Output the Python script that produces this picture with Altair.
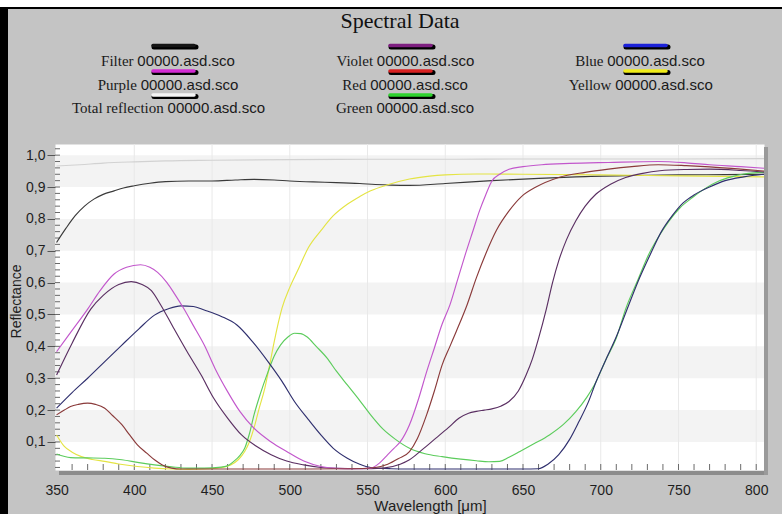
import altair as alt
import pandas as pd

# ---------------- data ----------------
names = ["Filter", "Violet", "Blue", "Purple", "Red", "Yellow", "Total reflection", "Green"]
suffix = "00000.asd.sco"

filter_wl = [350, 356, 362, 368, 374, 380, 387, 393, 400, 410, 420, 435, 450, 465, 477, 490, 500, 515, 530, 545, 555, 565, 577, 600, 630, 660, 684, 720, 750, 780, 805]
filter_r = [0.726, 0.77, 0.81, 0.84, 0.862, 0.877, 0.888, 0.897, 0.904, 0.912, 0.917, 0.919, 0.919, 0.922, 0.924, 0.922, 0.919, 0.916, 0.914, 0.911, 0.908, 0.906, 0.905, 0.911, 0.92, 0.927, 0.932, 0.936, 0.938, 0.939, 0.94]

total_wl = [350, 365, 380, 400, 420, 450, 500, 550, 600, 650, 700, 750, 805]
total_r = [0.966, 0.97, 0.975, 0.979, 0.982, 0.984, 0.986, 0.987, 0.987, 0.988, 0.988, 0.988, 0.989]

yellow_wl = [350, 355, 360, 366, 373, 381, 390, 402, 413, 424, 435, 445, 455, 462, 467, 471, 474, 477, 480, 484, 487, 490, 495, 500, 505, 512, 520, 528, 537, 545, 552, 563, 577, 590, 600, 620, 650, 700, 750, 805]
yellow_r = [0.122, 0.086, 0.068, 0.054, 0.045, 0.039, 0.031, 0.023, 0.018, 0.015, 0.014, 0.015, 0.019, 0.028, 0.045, 0.07, 0.1, 0.144, 0.2, 0.27, 0.34, 0.415, 0.52, 0.585, 0.637, 0.71, 0.763, 0.81, 0.846, 0.87, 0.888, 0.907, 0.925, 0.934, 0.938, 0.941, 0.94, 0.938, 0.935, 0.932]

green_wl = [350, 359, 370, 381, 392, 403, 413, 424, 434, 445, 456, 461, 464, 468, 471, 474, 477, 481, 486, 490, 494, 499, 503, 507, 511, 517, 524, 530, 537, 545, 552, 560, 568, 577, 587, 598, 610, 620, 628, 635, 641, 648, 657, 667, 676, 684, 691, 697, 703, 710, 716, 724, 731, 738, 744, 751, 759, 767, 776, 784, 791, 805]
green_r = [0.062, 0.051, 0.05, 0.049, 0.044, 0.035, 0.028, 0.022, 0.018, 0.018, 0.021, 0.028, 0.039, 0.058, 0.08, 0.125, 0.185, 0.25, 0.32, 0.37, 0.404, 0.43, 0.441, 0.44, 0.43, 0.4, 0.363, 0.322, 0.279, 0.23, 0.185, 0.14, 0.108, 0.08, 0.063, 0.054, 0.046, 0.041, 0.038, 0.039, 0.052, 0.07, 0.094, 0.122, 0.155, 0.195, 0.24, 0.289, 0.355, 0.426, 0.517, 0.61, 0.69, 0.75, 0.794, 0.835, 0.867, 0.895, 0.919, 0.932, 0.94, 0.946]

blue_wl = [350, 360, 370, 381, 392, 403, 413, 422, 430, 438, 445, 456, 466, 476, 486, 495, 503, 512, 520, 528, 537, 545, 552, 565, 577, 600, 630, 650, 660, 666, 673, 680, 686, 692, 697, 703, 710, 718, 725, 732, 739, 746, 753, 760, 770, 780, 792, 805]
blue_r = [0.206, 0.255, 0.3, 0.352, 0.404, 0.455, 0.498, 0.518, 0.527, 0.525, 0.514, 0.494, 0.467, 0.415, 0.352, 0.29, 0.227, 0.17, 0.122, 0.08, 0.049, 0.03, 0.02, 0.016, 0.015, 0.015, 0.015, 0.015, 0.016, 0.03, 0.06, 0.108, 0.164, 0.225, 0.289, 0.355, 0.43, 0.53, 0.615, 0.69, 0.76, 0.81, 0.85, 0.875, 0.9, 0.92, 0.932, 0.94]

violet_wl = [350, 360, 372, 380, 390, 398, 405, 411, 417, 425, 434, 443, 451, 460, 469, 478, 488, 498, 509, 520, 530, 545, 560, 571, 577, 585, 594, 602, 609, 615, 620, 625, 630, 636, 641, 647, 652, 656, 660, 665, 669, 673, 678, 684, 690, 697, 706, 716, 727, 738, 755, 770, 790, 805]
violet_r = [0.31, 0.41, 0.517, 0.56, 0.594, 0.603, 0.594, 0.575, 0.53, 0.46, 0.383, 0.31, 0.238, 0.175, 0.122, 0.088, 0.06, 0.04, 0.028, 0.02, 0.017, 0.016, 0.018, 0.03, 0.044, 0.075, 0.112, 0.145, 0.175, 0.19, 0.196, 0.2, 0.204, 0.213, 0.227, 0.26, 0.31, 0.36, 0.425, 0.517, 0.6, 0.669, 0.735, 0.794, 0.84, 0.878, 0.908, 0.93, 0.943, 0.951, 0.955, 0.956, 0.952, 0.947]

purple_wl = [350, 360, 370, 378, 387, 395, 404, 410, 415, 421, 426, 432, 438, 445, 452, 460, 468, 477, 488, 498, 509, 520, 530, 541, 552, 558, 563, 567, 571, 577, 583, 588, 593, 598, 603, 608, 613, 618, 622, 626, 630, 635, 641, 650, 662, 680, 705, 737, 755, 770, 790, 805]
purple_r = [0.383, 0.45, 0.517, 0.575, 0.627, 0.648, 0.656, 0.648, 0.632, 0.6, 0.564, 0.517, 0.465, 0.404, 0.33, 0.258, 0.195, 0.143, 0.1, 0.07, 0.04, 0.023, 0.017, 0.016, 0.018, 0.035, 0.06, 0.08, 0.1, 0.154, 0.238, 0.32, 0.395, 0.47, 0.53, 0.61, 0.69, 0.765, 0.825, 0.875, 0.919, 0.94, 0.956, 0.964, 0.97, 0.974, 0.977, 0.98, 0.976, 0.97, 0.964, 0.959]

red_wl = [350, 355, 359, 364, 370, 375, 381, 386, 392, 397, 402, 408, 413, 418, 424, 430, 450, 500, 540, 555, 563, 570, 577, 582, 588, 593, 598, 603, 607, 614, 620, 626, 633, 641, 649, 658, 673, 690, 705, 720, 737, 755, 770, 790, 805]
red_r = [0.185, 0.2, 0.211, 0.218, 0.222, 0.218, 0.206, 0.183, 0.154, 0.122, 0.091, 0.065, 0.044, 0.028, 0.018, 0.015, 0.015, 0.015, 0.016, 0.02, 0.03, 0.048, 0.07, 0.11, 0.185, 0.26, 0.342, 0.4, 0.446, 0.53, 0.615, 0.69, 0.765, 0.825, 0.87, 0.899, 0.93, 0.946, 0.956, 0.964, 0.97, 0.967, 0.963, 0.956, 0.95]

x_ticks = [350, 400, 450, 500, 550, 600, 650, 700, 750, 800]
y_ticks = [0.1, 0.2, 0.3, 0.4, 0.5, 0.6, 0.7, 0.8, 0.9, 1.0]
band_lo = [0.1, 0.3, 0.5, 0.7, 0.9]

# colours
line_colors = ["#3a3a3a", "#5a2f62", "#2f2f6e", "#c257cc", "#8a3a3a", "#e4e444", "#d2d2d2", "#5ccc5c"]
legend_colors = ["#151515", "#7e1f80", "#1c22d8", "#d22ad2", "#d82020", "#f0ec1a", "#f4f4f4", "#2ed22e"]

# ---------------- tables ----------------
series = {
    "Total reflection": (total_wl, total_r),
    "Filter": (filter_wl, filter_r),
    "Yellow": (yellow_wl, yellow_r),
    "Green": (green_wl, green_r),
    "Blue": (blue_wl, blue_r),
    "Violet": (violet_wl, violet_r),
    "Purple": (purple_wl, purple_r),
    "Red": (red_wl, red_r),
}
rows = []
for k, (sname, (w, r)) in enumerate(series.items()):
    for a, b in zip(w, r):
        rows.append({"series": sname, "wl": a, "r": b, "ord": k})
df = pd.DataFrame(rows)

W, H = 709, 326
PL, PT = 55, 144
xs = alt.Scale(domain=[349, 805], nice=False, zero=False)
ys = alt.Scale(domain=[0.012, 1.035], nice=False, zero=False)
one = pd.DataFrame({"a": [0]})

x_axis = alt.Axis(
    values=x_ticks, tickSize=0, domain=False, grid=False, labelPadding=13,
    labelFont="Liberation Sans", labelFontSize=14, labelColor="#1e1e1e",
    title="Wavelength [μm]", titleFont="Liberation Sans", titleFontSize=15,
    titleFontWeight="normal", titleColor="#1e1e1e", titlePadding=1, titleX=375)
y_axis = alt.Axis(
    values=y_ticks, format=".1f", labelExpr="replace(datum.label, '.', ',')",
    tickSize=8, tickColor="#555555", domain=False, grid=False, labelPadding=2,
    labelFont="Liberation Sans", labelFontSize=14, labelColor="#1e1e1e",
    title="Reflectance", titleFont="Liberation Sans", titleFontSize=14,
    titleFontWeight="normal", titleColor="#1e1e1e", titleAngle=270,
    titleBaseline="middle", titleX=-39, titleY=157)

# ---------------- plot panel ----------------
bands = alt.Chart(pd.DataFrame({"lo": band_lo, "hi": [v + 0.1 for v in band_lo]})).mark_rect(
    color="#f3f3f3").encode(
    x=alt.value(0), x2=alt.value(W),
    y=alt.Y("lo:Q", scale=ys, axis=y_axis), y2="hi:Q")

vgrid = alt.Chart(pd.DataFrame({"g": x_ticks[1:]})).mark_rule(color="#e9e9e9", strokeWidth=1).encode(
    x=alt.X("g:Q", scale=xs, axis=x_axis), y=alt.value(0), y2=alt.value(H))

xminor = alt.Chart(pd.DataFrame({"t": list(range(360, 801, 10))})).mark_rule(
    color="#6a6a6a", strokeWidth=1).encode(
    x=alt.X("t:Q", scale=xs, axis=x_axis), y=alt.value(H), y2=alt.value(H - 6))

yminor = alt.Chart(pd.DataFrame({"t": [round(0.02 * i, 2) for i in range(1, 52)]})).mark_rule(
    color="#6a6a6a", strokeWidth=1).encode(
    y=alt.Y("t:Q", scale=ys, axis=y_axis), x=alt.value(0), x2=alt.value(5))

lines = alt.Chart(df).mark_line(strokeWidth=1.15, interpolate="monotone").encode(
    x=alt.X("wl:Q", scale=xs, axis=x_axis),
    y=alt.Y("r:Q", scale=ys, axis=y_axis),
    color=alt.Color("series:N", scale=alt.Scale(domain=names, range=line_colors), legend=None),
    detail="series:N",
    order="ord:Q",
)

# ---------------- legend + title (pixel layout, relative to plot origin) ----------------
tw = {'F': 556, 'i': 278, 'l': 278, 't': 278, 'e': 444, 'r': 333, 'V': 722, 'o': 500, 'B': 667,
      'u': 500, 'P': 556, 'p': 500, 'R': 667, 'd': 500, 'Y': 722, 'w': 722, 'T': 611, 'a': 444,
      ' ': 250, 'f': 333, 'c': 444, 'n': 500, 'G': 722}
aw = {'0': 556, '.': 278, 'a': 556, 's': 500, 'd': 556, 'c': 500, 'o': 556}
FS = 15
suf_w = sum(aw[c] for c in suffix) * FS / 1000
gap = 0.25 * FS

col_x = [174 - PL, 411 - PL, 646 - PL]
sym_y = [45.5, 71, 95]
txt_y = [61, 84.5, 108]
legend_layers = []
for i, nm in enumerate(names):
    col, row = i % 3, i // 3
    cx = col_x[col]
    sy = sym_y[row] - PT
    ty = txt_y[row] - PT
    legend_layers.append(alt.Chart(one).mark_rule(color="#000000", strokeWidth=5, strokeCap="round").encode(
        x=alt.value(cx - 20), x2=alt.value(cx + 22), y=alt.value(sy + 1.5)))
    legend_layers.append(alt.Chart(one).mark_rule(color=legend_colors[i], strokeWidth=3.5, strokeCap="round").encode(
        x=alt.value(cx - 21), x2=alt.value(cx + 20), y=alt.value(sy)))
    nw = sum(tw[c] for c in nm) * FS / 1000
    total = nw + gap + suf_w
    left = cx - 6 - total / 2
    legend_layers.append(alt.Chart(one).mark_text(
        align="right", baseline="middle", font="Liberation Serif", fontSize=FS, color="#1a1a1a").encode(
        x=alt.value(left + nw), y=alt.value(ty), text=alt.value(nm)))
    legend_layers.append(alt.Chart(one).mark_text(
        align="left", baseline="middle", font="Liberation Sans", fontSize=FS, color="#1a1a1a").encode(
        x=alt.value(left + nw + gap), y=alt.value(ty), text=alt.value(suffix)))

# ---------------- decoration (frame, shadow, title) ----------------
frame_top_white = alt.Chart(one).mark_rect(color="#ffffff").encode(
    x=alt.value(-PL), x2=alt.value(782 - PL), y=alt.value(-PT), y2=alt.value(7 - PT))
frame_top = alt.Chart(one).mark_rect(color="#000000").encode(
    x=alt.value(-PL), x2=alt.value(782 - PL), y=alt.value(7 - PT), y2=alt.value(9 - PT))
frame_left = alt.Chart(one).mark_rect(color="#000000").encode(
    x=alt.value(-PL), x2=alt.value(8 - PL), y=alt.value(7 - PT), y2=alt.value(514 - PT))
shadow_b = alt.Chart(one).mark_rect(color="#8c8c8c").encode(
    x=alt.value(4), x2=alt.value(W + 4), y=alt.value(H + 1), y2=alt.value(H + 5))
shadow_r = alt.Chart(one).mark_rect(color="#9a9a9a").encode(
    x=alt.value(W), x2=alt.value(W + 4), y=alt.value(3), y2=alt.value(H + 5))
title = alt.Chart(one).mark_text(font="Liberation Serif", fontSize=22, color="#111111",
                                 align="center", baseline="middle").encode(
    x=alt.value(400 - PL), y=alt.value(21 - PT), text=alt.value("Spectral Data"))

chart = alt.layer(
    bands, vgrid, xminor, yminor, lines,
    frame_top_white, frame_top, frame_left, shadow_b, shadow_r, title, *legend_layers
).properties(
    width=W, height=H,
    padding={"left": PL, "top": PT, "right": 782 - PL - W, "bottom": 514 - PT - H},
    autosize=alt.AutoSizeParams(type="none"),
    background="#c4c4c4",
).configure_view(fill="#ffffff", stroke="transparent")

chart.save("out.html", embed_options={"renderer": "svg", "actions": False})
